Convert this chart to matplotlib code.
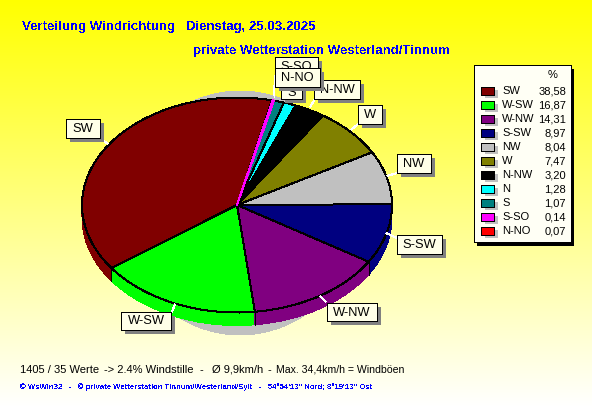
import numpy as np
import matplotlib
matplotlib.use('Agg')
import matplotlib.pyplot as plt
from matplotlib.colors import LinearSegmentedColormap
from matplotlib.patches import Ellipse, Rectangle

plt.rcParams['font.family'] = ['Liberation Sans', 'DejaVu Sans']

directions = ['SW', 'W-SW', 'W-NW', 'S-SW', 'NW', 'W', 'N-NW', 'N', 'S', 'S-SO', 'N-NO']
percent = [38.58, 16.87, 14.31, 8.97, 8.04, 7.47, 3.20, 1.28, 1.07, 0.14, 0.07]
percent_text = ['38,58', '16,87', '14,31', '8,97', '8,04', '7,47', '3,20', '1,28', '1,07', '0,14', '0,07']
colors = ['#800000', '#00ff00', '#800080', '#000080', '#c0c0c0', '#808000',
          '#000000', '#00ffff', '#008080', '#ff00ff', '#ff0000']

W, H = 592, 407
cx, cy, rx, ry = 237, 205, 155, 107.5
depth = 13
start = 77.0
px = 0.72  # one pixel in points

fig = plt.figure(figsize=(W / 100, H / 100), dpi=100)

# yellow to white background
bg = fig.add_axes([0, 0, 1, 1], zorder=0)
cmap = LinearSegmentedColormap.from_list('bg', ['#ffff00', '#ffffff'])
bg.imshow(np.linspace(0, 1, 256).reshape(-1, 1), aspect='auto', cmap=cmap, extent=(0, W, H, 0))
bg.axis('off')

# pie axes, stretched so that the circle turns into the ellipse
ax = fig.add_axes([0, 0, 1, 1], zorder=1)
ax.add_patch(Ellipse((3 / rx, -8 / ry), 2 * 118 / rx, 2 * 122 / ry, fc='#c0c0c0', ec='none', aa=False))
for off in range(depth, 0, -1):
    ax.pie(percent, colors=colors, startangle=start, center=(0, -off / ry),
           wedgeprops=dict(linewidth=0, antialiased=False))
wedges, _ = ax.pie(percent, colors=colors, startangle=start, center=(0, 0),
                   wedgeprops=dict(edgecolor='black', linewidth=px, antialiased=False))
# the two thin slices would vanish under their own outline
wedges[9].set_edgecolor(colors[9])
wedges[9].set_zorder(wedges[10].get_zorder() + 1)

# vertical edges on the side of the pie
angles = start + np.cumsum(percent) * 3.6
for a in angles:
    t = np.radians(a)
    if np.sin(t) < 0:
        ax.plot([np.cos(t)] * 2, [np.sin(t), np.sin(t) - depth / ry], color='black', lw=px, aa=False)

ax.set_aspect('auto')
ax.set_xlim(-cx / rx, (W - cx) / rx)
ax.set_ylim((cy - H) / ry, cy / ry)
ax.axis('off')

# everything else in pixel coordinates
ov = fig.add_axes([0, 0, 1, 1], zorder=2)
ov.set_xlim(0, W)
ov.set_ylim(H, 0)
ov.axis('off')

ov.text(22, 30, 'Verteilung Windrichtung   Dienstag, 25.03.2025', color='#0000ff', fontsize=9.55,
        fontweight='bold', va='baseline', antialiased=False)
ov.text(193, 54, 'private Wetterstation Westerland/Tinnum', color='#0000ff', fontsize=9.55,
        fontweight='bold', va='baseline', antialiased=False)

footer_x = [20, 104, 199, 212, 267, 276]
footer_parts = ['1405 / 35 Werte', '-> 2.4% Windstille', '-', 'Ø 9,9km/h', '-', 'Max. 34,4km/h = Windböen']
footer_size = [8, 8, 8, 8, 8, 7.6]
for x, part, size in zip(footer_x, footer_parts, footer_size):
    ov.text(x, 373, part, color='black', fontsize=size, va='baseline')
ov.text(20, 389, '© WsWin32   -   © private Wetterstation Tinnum/Westerland/Sylt   -   54°54\'13" Nord; 8°19\'13" Ost',
        color='#0000ff', fontsize=5.55, fontweight='bold', va='baseline', antialiased=False)

# pie labels: text, left, top, right, bottom, leader line
labels = [
    ('SW', 66, 119, 100, 138, (100, 138, 108, 144)),
    ('W-SW', 121, 312, 171, 330, (172, 312, 175, 304)),
    ('W-NW', 327, 303, 377, 321, (326, 302, 320, 296)),
    ('S-SW', 397, 235, 442, 254, (397, 238, 386, 233)),
    ('NW', 397, 154, 431, 173, (397, 173, 387, 176)),
    ('W', 358, 105, 382, 124, (358, 124, 351, 130)),
    ('N-NW', 314, 80, 360, 99, (315, 99, 310, 107)),
    ('S', 281, 87, 302, 99, (290, 99, 286, 101)),
    ('S-SO', 275, 57, 318, 76, (275, 76, 274, 96)),
    ('N-NO', 275, 68, 320, 87, (274, 87, 274, 97)),
]
for i, (name, x0, y0, x1, y1, lead) in enumerate(labels):
    z = 5 + i
    ov.plot([lead[0], lead[2]], [lead[1], lead[3]], color='white', lw=px, aa=False, zorder=z,
            solid_capstyle='butt')
    ov.add_patch(Rectangle((x0 + 4, y0 + 4), x1 - x0, y1 - y0, fc='#808080', ec='none', aa=False, zorder=z))
    ov.add_patch(Rectangle((x0, y0), x1 - x0, y1 - y0, fc='#ffffe8', ec='black', lw=px, aa=False, zorder=z))
    ov.text((x0 + x1) / 2, (y0 + y1) / 2 + 0.5, name, ha='center', va='center', fontsize=9.3,
            color='black', zorder=z)

# legend
ov.add_patch(Rectangle((477, 69), 97, 177, fc='black', ec='none', aa=False))
ov.add_patch(Rectangle((474, 65), 97, 177, fc='#fffff5', ec='black', lw=px, aa=False))
ov.text(553, 75, '%', ha='center', va='center', fontsize=8, color='black')
for i, (name, val, col) in enumerate(zip(directions, percent_text, colors)):
    y = 91 + 14 * i
    ov.add_patch(Rectangle((485, y - 1), 13, 8, fc='#c0c0c0', ec='none', aa=False))
    ov.add_patch(Rectangle((481, y - 4), 13, 8, fc=col, ec='black', lw=px, aa=False))
    ov.text(502, y + 0.5, name, ha='left', va='center', fontsize=8, color='black')
    ov.text(566, y + 0.5, val, ha='right', va='center', fontsize=8, color='black')

fig.savefig('out.png', dpi=100)
